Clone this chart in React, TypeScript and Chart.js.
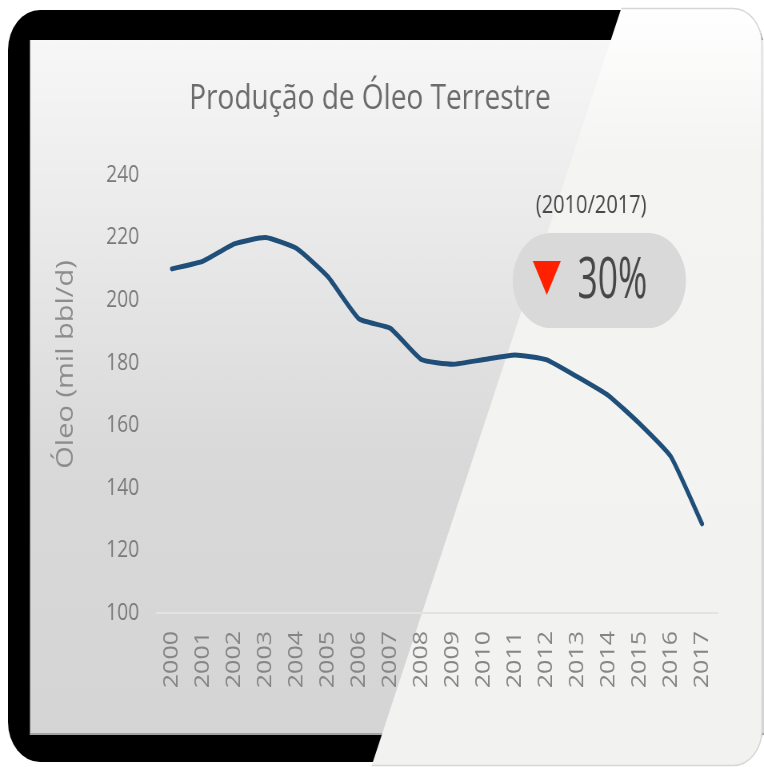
import React, { useEffect, useRef } from "react";
import { Chart, registerables } from "chart.js";

Chart.register(...registerables);

const years = [
  "2000", "2001", "2002", "2003", "2004", "2005", "2006", "2007", "2008",
  "2009", "2010", "2011", "2012", "2013", "2014", "2015", "2016", "2017",
];
const production = [
  210, 212.5, 218, 220, 216.5, 207.5, 194, 191, 181,
  179.5, 181, 182.5, 181, 175.5, 169.5, 160.5, 150, 128.5,
];
const yMin = 100;
const yMax = 240;
const yStep = 20;
const chartTitle = "Produção de Óleo Terrestre";
const yTitle = "Óleo (mil bbl/d)";
const periodLabel = "(2010/2017)";
const changeLabel = "30%";

const SX = 0.8;
const W = 955;
const H = 767;
const FONT = '"Open Sans", "Noto Sans", sans-serif';

const framePlugin = {
  id: "frame",
  beforeDraw(chart: any) {
    const ctx = chart.ctx as CanvasRenderingContext2D;
    ctx.save();
    ctx.fillStyle = "#ffffff";
    ctx.fillRect(0, 0, W, H);
    // black tablet frame
    ctx.fillStyle = "#000000";
    ctx.beginPath();
    ctx.roundRect(10, 10, W - 10, 752, 40);
    ctx.fill();
    // screen
    const g = ctx.createLinearGradient(0, 40, 0, 735);
    g.addColorStop(0, "#f7f7f7");
    g.addColorStop(0.25, "#ebebeb");
    g.addColorStop(0.6, "#d9d9d9");
    g.addColorStop(1, "#d5d5d5");
    ctx.fillStyle = g;
    ctx.fillRect(37.5, 40, W - 37.5, 695);
    ctx.fillStyle = "#a3a3a3";
    ctx.fillRect(37.5, 733, W, 2);
    // light diagonal panel
    ctx.save();
    ctx.beginPath();
    ctx.moveTo(780, 0);
    ctx.lineTo(W, 0);
    ctx.lineTo(W, H);
    ctx.lineTo(464, H);
    ctx.closePath();
    ctx.clip();
    const g2 = ctx.createLinearGradient(0, 8, 0, H);
    g2.addColorStop(0, "#ffffff");
    g2.addColorStop(0.2, "#f4f4f3");
    g2.addColorStop(1, "#f2f2f0");
    ctx.beginPath();
    ctx.roundRect(300, 8.5, 652.5, 757, 36);
    ctx.fillStyle = g2;
    ctx.fill();
    ctx.strokeStyle = "#d6d6d6";
    ctx.lineWidth = 1.5;
    ctx.stroke();
    ctx.restore();
    ctx.restore();
  },
};

const annotationPlugin = {
  id: "annotations",
  afterDraw(chart: any) {
    const ctx = chart.ctx as CanvasRenderingContext2D;
    ctx.save();
    // title
    ctx.fillStyle = "#6b6b6b";
    ctx.font = `35px ${FONT}`;
    ctx.textAlign = "center";
    ctx.textBaseline = "alphabetic";
    ctx.fillText(chartTitle, 462.5, 109);
    // y axis title
    ctx.save();
    ctx.translate(83, 364.5);
    ctx.rotate(-Math.PI / 2);
    ctx.fillStyle = "#8c8c8c";
    ctx.font = `29px ${FONT}`;
    ctx.textAlign = "center";
    ctx.textBaseline = "middle";
    ctx.fillText(yTitle, 0, 0);
    ctx.restore();
    // period label
    ctx.fillStyle = "#474747";
    ctx.font = `25px ${FONT}`;
    ctx.textAlign = "center";
    ctx.textBaseline = "alphabetic";
    ctx.fillText(periodLabel, 739, 213);
    // pill
    ctx.fillStyle = "#d9d9d9";
    ctx.beginPath();
    ctx.roundRect(641, 233, 216.5, 95, 47.5);
    ctx.fill();
    // red down triangle
    ctx.fillStyle = "#ff2000";
    ctx.beginPath();
    ctx.moveTo(666, 261);
    ctx.lineTo(701, 261);
    ctx.lineTo(683.5, 295);
    ctx.closePath();
    ctx.fill();
    // change value
    ctx.save();
    ctx.translate(765.5, 298);
    ctx.scale(0.79, 1);
    ctx.fillStyle = "#474747";
    ctx.font = `56px ${FONT}`;
    ctx.textAlign = "center";
    ctx.textBaseline = "alphabetic";
    ctx.fillText(changeLabel, 0, 0);
    ctx.restore();
    ctx.restore();
  },
};

export default function App() {
  const canvasRef = useRef<HTMLCanvasElement | null>(null);

  useEffect(() => {
    const canvas = canvasRef.current;
    if (!canvas) return;
    const chart = new Chart(canvas, {
      type: "line",
      data: {
        labels: years,
        datasets: [
          {
            data: production,
            borderColor: "#1f4e79",
            borderWidth: 5,
            pointRadius: 0,
            tension: 0.15,
            fill: false,
            borderCapStyle: "round",
            borderJoinStyle: "round",
          },
        ],
      },
      options: {
        responsive: false,
        animation: false,
        devicePixelRatio: 1,
        layout: { padding: { top: 175, right: 58, bottom: 0, left: 0 } },
        plugins: {
          legend: { display: false },
          tooltip: { enabled: false },
          title: { display: false },
        },
        scales: {
          x: {
            offset: true,
            grid: { display: false },
            border: { display: true, color: "#e3e3e3", width: 2 },
            ticks: {
              minRotation: 90,
              maxRotation: 90,
              autoSkip: false,
              padding: 10,
              color: "#858585",
              font: { family: FONT, size: 25 },
            },
            afterFit: (s: any) => {
              s.height = 154;
            },
          },
          y: {
            min: yMin,
            max: yMax,
            ticks: {
              stepSize: yStep,
              padding: 13.5,
              color: "#7a7a7a",
              font: { family: FONT, size: 24 },
            },
            grid: { display: false },
            border: { display: false },
            afterFit: (s: any) => {
              s.width = 195.5;
            },
          },
        },
      },
      plugins: [framePlugin, annotationPlugin],
    });
    return () => chart.destroy();
  }, []);

  return (
    <div
      style={{
        position: "absolute",
        left: 0,
        top: 0,
        width: 764,
        height: 767,
        overflow: "hidden",
      }}
    >
      <canvas
        ref={canvasRef}
        width={W}
        height={H}
        style={{
          width: W,
          height: H,
          transform: `scaleX(${SX})`,
          transformOrigin: "0 0",
          display: "block",
        }}
      />
    </div>
  );
}
